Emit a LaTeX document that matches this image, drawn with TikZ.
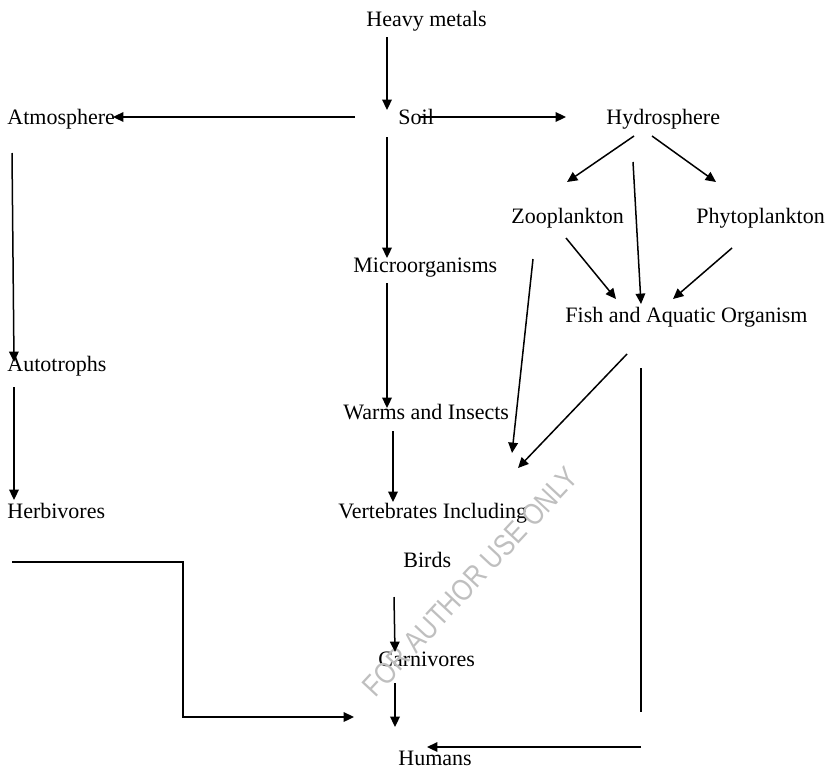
\documentclass[tikz,border=0pt]{standalone}
\usepackage{fontspec}
\setmainfont{Liberation Serif}
\newfontfamily\stampfont[FakeStretch=0.84]{Liberation Sans}
\usepackage{tikz}
\usetikzlibrary{arrows.meta,calc}

\begin{document}
\begin{tikzpicture}[
    x=0.5pt, y=-0.5pt,
    term/.style={inner sep=0pt, anchor=base west, font=\fontsize{11}{13}\selectfont},
    flow/.style={line width=0.75pt, -{Triangle[length=5.2pt,width=4.8pt]}},
    rule/.style={line width=0.75pt}
]
    \useasboundingbox (0,0) rectangle (828,771);
    % terms of the chain
    \node[term] (heavy)  at (366,26)  {Heavy metals};
    \node[term] (soil)   at (398,124) {Soil};
    \node[term] (atmo)   at (7,124)   {Atmosphere};
    \node[term] (hydro)  at (606,124) {Hydrosphere};
    \node[term] (zoo)    at (511,223) {Zooplankton};
    \node[term] (phyto)  at (696,223) {Phytoplankton};
    \node[term] (micro)  at (353,272) {Microorganisms};
    \node[term] (fish)   at (565,322) {Fish and Aquatic Organism};
    \node[term] (auto)   at (7,371)   {Autotrophs};
    \node[term] (warms)  at (343,419) {Warms and Insects};
    \node[term] (herb)   at (7,518)   {Herbivores};
    \node[term] (vert)   at (338,518) {Vertebrates Including};
    \node[term] (birds)  at (403,567) {Birds};
    \node[term] (carn)   at (378,666) {Carnivores};
    \node[term] (humans) at (398,765) {Humans};
    \node[text=gray!50, rotate=47, inner sep=0pt, font=\stampfont\fontsize{15}{17}\selectfont] (stamp) at (470,582) {FOR AUTHOR USE ONLY};

    % arrows
    \draw[flow] ($(heavy.base west)+(21,11)$) -- ($(soil.base west)+(-11,-14)$);
    \draw[flow] ($(soil.base west)+(-43,-7)$) -- ($(atmo.base west)+(106,-7)$);
    \draw[flow] ($(soil.base west)+(22,-7)$) -- ($(hydro.base west)+(-40,-7)$);
    \draw[flow] ($(hydro.base west)+(28,12)$) -- ($(zoo.base west)+(56,-41)$);
    \draw[flow] ($(hydro.base west)+(46,12)$) -- ($(phyto.base west)+(20,-41)$);
    \draw[flow] ($(hydro.base west)+(27,38)$) -- ($(fish.base west)+(76,-18)$);
    \draw[flow] ($(zoo.base west)+(55,15)$) -- ($(fish.base west)+(51,-23)$);
    \draw[flow] ($(phyto.base west)+(36,25)$) -- ($(fish.base west)+(108,-23)$);
    \draw[flow] ($(soil.base west)+(-11,13)$) -- ($(micro.base west)+(34,-14)$);
    \draw[flow] ($(micro.base west)+(34,11)$) -- ($(warms.base west)+(44,-11)$);
    \draw[flow] ($(warms.base west)+(50,12)$) -- ($(vert.base west)+(55,-16)$);
    \draw[flow] ($(zoo.base west)+(22,36)$) -- ($(vert.base west)+(174,-65)$);
    \draw[flow] ($(fish.base west)+(62,32)$) -- ($(vert.base west)+(180,-50)$);
    \draw[flow] ($(atmo.base west)+(5,29)$) -- ($(auto.base west)+(7,-9)$);
    \draw[flow] ($(auto.base west)+(7,16)$) -- ($(herb.base west)+(7,-18)$);
    \draw[flow] ($(herb.base west)+(5,44)$) -- ++(171,0) |- ($(humans.base west)+(-44,-48)$);
    \draw[flow] ($(birds.base west)+(-9,30)$) -- ($(carn.base west)+(17,-14)$);
    \draw[flow] ($(carn.base west)+(17,17)$) -- ($(humans.base west)+(-3,-38)$);
    \draw[rule] ($(fish.base west)+(76,46)$) -- ($(humans.base west)+(243,-53)$);
    \draw[flow] ($(humans.base west)+(243,-18)$) -- ($(humans.base west)+(29,-18)$);
\end{tikzpicture}
\end{document}
